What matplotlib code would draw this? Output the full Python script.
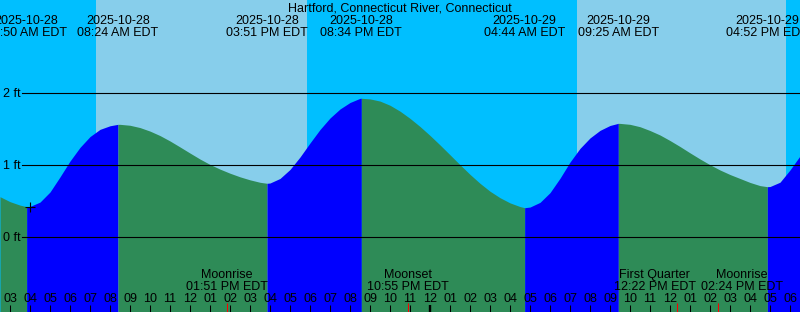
import numpy as np
import matplotlib

matplotlib.use("Agg")
import matplotlib.pyplot as plt

plt.rcParams["font.family"] = ["Liberation Sans", "DejaVu Sans"]
plt.rcParams["font.size"] = 9

TITLE = "Hartford, Connecticut River, Connecticut"

# all times are hours after 2025-10-28 00:00 EDT
T_START, T_END = 2.5, 42.5

# water level (ft), every half hour from 02:30
level_ft = [
    0.564, 0.495, 0.447, 0.429, 0.489, 0.629, 0.839, 1.059, 1.249, 1.399,
    1.499, 1.549, 1.569, 1.556, 1.524, 1.475, 1.413, 1.338, 1.255, 1.170,
    1.087, 1.012, 0.947, 0.890, 0.840, 0.798, 0.764, 0.754, 0.817, 0.942,
    1.115, 1.310, 1.497, 1.657, 1.782, 1.872, 1.930, 1.922, 1.892, 1.834,
    1.752, 1.652, 1.539, 1.415, 1.283, 1.146, 1.008, 0.874, 0.750, 0.640,
    0.550, 0.478, 0.427, 0.420, 0.485, 0.620, 0.820, 1.045, 1.235, 1.380,
    1.485, 1.553, 1.582, 1.569, 1.536, 1.483, 1.421, 1.344, 1.261, 1.173,
    1.088, 1.008, 0.935, 0.872, 0.817, 0.762, 0.718, 0.705, 0.765, 0.935,
    1.130,
]
sample_hours = T_START + 0.5 * np.arange(len(level_ft))

# high / low tides
event_hours = [3 + 50 / 60, 8 + 24 / 60, 15 + 51 / 60, 20 + 34 / 60,
               28 + 44 / 60, 33 + 25 / 60, 40 + 52 / 60]
event_ft = [0.425, 1.569, 0.750, 1.931, 0.411, 1.583, 0.703]
event_high = [False, True, False, True, False, True, False]
event_date = ["2025-10-28", "2025-10-28", "2025-10-28", "2025-10-28",
              "2025-10-29", "2025-10-29", "2025-10-29"]
event_time = ["03:50 AM EDT", "08:24 AM EDT", "03:51 PM EDT", "08:34 PM EDT",
              "04:44 AM EDT", "09:25 AM EDT", "04:52 PM EDT"]

sunrise = [7.30, 31.33]
sunset = [17.83, 41.80]

moon_hours = [13 + 51 / 60, 22 + 55 / 60, 36 + 22 / 60, 38 + 24 / 60]
moon_name = ["Moonrise", "Moonset", "First Quarter", "Moonrise"]
moon_time = ["01:51 PM EDT", "10:55 PM EDT", "12:22 PM EDT", "02:24 PM EDT"]
# labels pushed sideways (px) so the last two don't collide
moon_shift_px = [0, 0, -22.5, 24]

now_hour = 4.0
now_ft = 0.427

grid_ft = [0, 1, 2]

NIGHT = "#00bfff"
DAY = "#87ceeb"
RISING = "#0000ff"
FALLING = "#2e8b57"

# pixel row (from top, 312 px high) <-> ft
ZERO_ROW, PX_PER_FT = 237.3, 72.0
PX_PER_HOUR = 20.0


def row(p):
    return (ZERO_ROW - p) / PX_PER_FT


def px_row(ft):
    return ZERO_ROW - ft * PX_PER_FT


def main() -> None:
    fig = plt.figure(figsize=(8.0, 3.12), dpi=100)
    ax = fig.add_axes([0, 0, 1, 1])
    ax.set_xlim(T_START, T_END)
    ax.set_ylim(row(312), row(0))
    ax.axis("off")
    ax.add_patch(plt.Rectangle((T_START, row(312)), T_END - T_START, row(0) - row(312),
                               color=NIGHT, lw=0, zorder=0))
    for a, b in zip(sunrise, sunset):
        ax.axvspan(a, b, color=DAY, lw=0, zorder=0.5)

    # merge the samples with the extremes
    t = np.concatenate([sample_hours, event_hours])
    v = np.concatenate([level_ft, event_ft])
    idx = np.argsort(t)
    t, v = t[idx], v[idx]

    bounds = [T_START] + event_hours + [T_END]
    for i in range(len(bounds) - 1):
        m = (t >= bounds[i] - 1e-9) & (t <= bounds[i + 1] + 1e-9)
        if i < len(event_high):
            col = RISING if event_high[i] else FALLING
        else:
            col = FALLING if event_high[-1] else RISING
        ax.fill_between(t[m], row(320), v[m], color=col, lw=0, zorder=1)

    x0 = T_START + 22 / PX_PER_HOUR
    for g in grid_ft:
        ax.plot([x0, T_END], [g, g], color="black", lw=0.8, zorder=2)
        ax.text(T_START + 3 / PX_PER_HOUR, row(px_row(g) + 3.4), f"{g} ft", ha="left",
                va="baseline", zorder=3)

    ax.plot([now_hour], [now_ft], marker="+", color="black", ms=7, mew=0.8, zorder=3)

    ax.text((T_START + T_END) / 2, row(11.6), TITLE, ha="center", va="baseline", zorder=3)
    for h, d, s in zip(event_hours, event_date, event_time):
        ax.text(h, row(24.3), d, ha="center", va="baseline", zorder=3)
        ax.text(h, row(36.5), s, ha="center", va="baseline", zorder=3)

    for h in range(3, 43):
        lab = f"{(h - 1) % 12 + 1:02d}"
        ax.text(h, row(301.6), lab, ha="center", va="baseline", zorder=3)
        ax.plot([h, h], [row(305), row(313)], color="black",
                lw=1.7 if h % 24 == 0 else 0.75, solid_capstyle="butt", zorder=3)

    for h, n, s, dx in zip(moon_hours, moon_name, moon_time, moon_shift_px):
        xl = h + dx / PX_PER_HOUR
        ax.text(xl, row(278.2), n, ha="center", va="baseline", zorder=3)
        ax.text(xl, row(290.2), s, ha="center", va="baseline", zorder=3)
        ax.plot([h, h], [row(303), row(313)], color="red", lw=0.75,
                solid_capstyle="butt", zorder=3)

    fig.savefig("out.png", dpi=100)
    plt.close(fig)


if __name__ == "__main__":
    main()
